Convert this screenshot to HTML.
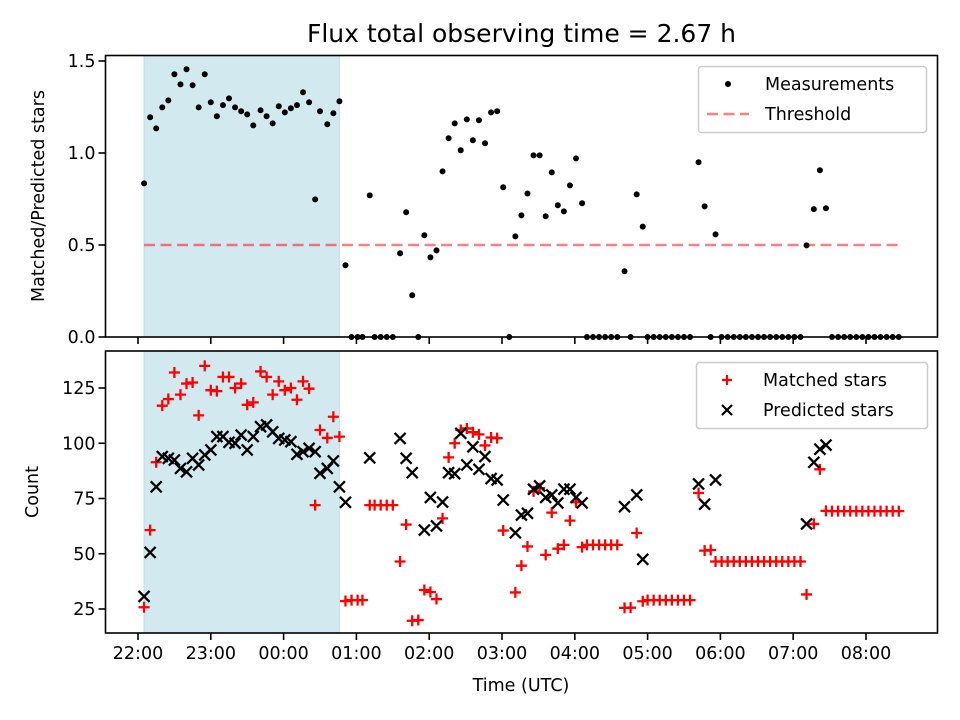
<!DOCTYPE html>
<html><head><meta charset="utf-8"><style>
body{margin:0;background:#fff}
svg{font-family:"DejaVu Sans","Liberation Sans",sans-serif;display:block}
</style></head><body>
<svg id="chart" width="960" height="720" xmlns="http://www.w3.org/2000/svg"></svg>
<script>
const minutes=[5,10,15,20,25,30,35,40,45,50,55,60,65,70,75,80,85,90,95,101,106,111,116,121,126,131,136,141,146,150,156,161,166,171,176,181,185,191,195,200,205,210,216,221,226,231,236,241,246,251,256,261,266,271,276,281,286,291,296,301,306,311,316,321,326,331,336,341,346,351,356,361,366,370,375,380,385,390,395,401,406,411,416,420,425,430,435,440,445,450,455,462,467,472,476,481,486,491,496,501,506,511,516,521,526,531,536,541,546,551,557,562,567,572,577,582,587,592,597,602,607,612,617,622,627];
const ratio=[.835,1.194,1.134,1.248,1.286,1.428,1.373,1.455,1.368,1.248,1.428,1.276,1.2,1.26,1.297,1.248,1.227,1.21,1.15,1.232,1.2,1.161,1.254,1.221,1.243,1.26,1.33,1.276,.748,1.227,1.156,1.216,1.281,.39,0,0,0,.77,0,0,0,0,.455,.678,.227,0,.553,.433,.471,.9,1.08,1.161,1.015,1.183,1.069,1.178,1.053,1.221,1.227,.814,0,.547,.661,.78,.987,.987,.656,.895,.716,.683,.824,.971,.727,0,0,0,0,0,0,.357,0,.775,.6,0,0,0,0,0,0,0,0,.95,.71,0,.558,0,0,0,0,0,0,0,0,0,0,0,0,0,0,.498,.695,.906,.7,0,0,0,0,0,0,0,0,0,0,0,0];
const matched=[25.8,60.7,91.4,117,120,132,122,127,127.5,112.6,135,124,123.6,130,130,125,127,117.4,118.5,132.5,130,122,128,124,125,119.7,128,124.7,72,106,102.4,112,103,28.6,29,29,29,72,72,72,72,72,46.5,63.2,19.7,20,33.6,32.7,29.5,66,93.6,100,106,106.7,105,104,99,102.6,102.3,60.5,null,32.5,44.6,53.3,78.2,79.7,49.5,68.6,52.3,54,65,73.3,53,54,54,54,54,54,54,25.5,25.6,59.4,28.5,29,29,29,29,29,29,29,29,77.5,51.4,51.7,46.5,46.5,46.5,46.5,46.5,46.5,46.5,46.5,46.5,46.5,46.5,46.5,46.5,46.5,46.5,31.6,63.5,88.2,69.4,69.3,69.3,69.3,69.3,69.3,69.3,69.3,69.3,69.3,69.3,69.3,69.3];
const predicted=[30.7,50.6,80.3,94,93.2,92.4,88.6,87.1,93.2,90.2,94.7,97,103,103,100.4,100,103.7,97,103,107.5,108.3,105.2,102.2,101.5,100.7,95,96.2,97.7,96.2,86.4,88.6,92,80.3,73.3,null,null,null,93.4,null,null,null,null,102.2,93.2,86.7,null,60.7,75.5,62.6,73.4,86.7,86.2,104.5,90.2,98.4,88.2,94,84,83.4,74.3,null,59.5,67.5,68.3,79.2,80.7,75.5,76.6,73,79.2,79.2,75.5,73,null,null,null,null,null,null,71.3,null,76.6,47.5,null,null,null,null,null,null,null,null,81.6,72.4,null,83.4,null,null,null,null,null,null,null,null,null,null,null,null,null,null,63.5,91.4,97.3,99.2,null,null,null,null,null,null,null,null,null,null,null,null];
const xTickMinutes=[0,60,120,180,240,300,360,420,480,540,600];
const xTickLabels=["22:00","23:00","00:00","01:00","02:00","03:00","04:00","05:00","06:00","07:00","08:00"];
const topTicks=[0,0.5,1.0,1.5];
const topTickLabels=["0.0","0.5","1.0","1.5"];
const botTicks=[25,50,75,100,125];
const threshold=0.5;
const shadeStart=5, shadeEnd=166;

const NS="http://www.w3.org/2000/svg";
const svg=document.getElementById('chart');
function el(tag,attrs,parent,text){const e=document.createElementNS(NS,tag);for(const k in attrs)e.setAttribute(k,attrs[k]);if(text!==undefined)e.textContent=text;(parent||svg).appendChild(e);return e;}
const FS=17.5;
const L=105.5,R=937.5,T1=55.5,B1=337,T2=351,B2=633;
const X=m=>138+m*72.8/60;
const Y1=v=>337-v*184;
const Y2=v=>609-(v-25)*2.21;

[[T1,B1],[T2,B2]].forEach(([t,b],i)=>{
  const r=el('rect',{x:X(shadeStart),y:t,width:X(shadeEnd)-X(shadeStart),height:b-t,fill:'rgb(211,233,240)',stroke:'rgb(190,222,232)','stroke-width':1});
  
  
});

const th=el('line',{x1:X(minutes[0]),x2:X(minutes[minutes.length-1]),y1:Y1(threshold),y2:Y1(threshold),stroke:'#ff0000','stroke-opacity':0.5,'stroke-width':2.6,'stroke-dasharray':'11,5.5'});



minutes.forEach((m,i)=>{
  const c=el('circle',{cx:X(m),cy:Y1(ratio[i]),r:3,fill:'#000'});
  
  
});
minutes.forEach((m,i)=>{
  if(matched[i]==null)return;
  const x=X(m),y=Y2(matched[i]),s=5.5;
  const p=el('path',{d:`M${x-s},${y}H${x+s}M${x},${y-s}V${y+s}`,stroke:'#ff0000','stroke-width':2.3,fill:'none'});
  
  
});
minutes.forEach((m,i)=>{
  if(predicted[i]==null)return;
  const x=X(m),y=Y2(predicted[i]),s=5.5;
  const p=el('path',{d:`M${x-s},${y-s}L${x+s},${y+s}M${x-s},${y+s}L${x+s},${y-s}`,stroke:'#000','stroke-width':2.3,fill:'none'});
  
  
});

[[T1,B1],[T2,B2]].forEach(([t,b],i)=>{
  const f=el('rect',{x:L,y:t,width:R-L,height:b-t,fill:'none',stroke:'#000','stroke-width':1.6});
  
  
});
xTickMinutes.forEach((m,i)=>{
  const x=X(m);
  el('line',{x1:x,x2:x,y1:B1,y2:B1+7,stroke:'#000','stroke-width':1.6});
  el('line',{x1:x,x2:x,y1:B2,y2:B2+7,stroke:'#000','stroke-width':1.6});
  const t=el('text',{x:x,y:B2+26,'font-size':FS,'text-anchor':'middle'},null,xTickLabels[i]);
  
  
});
topTicks.forEach((v,i)=>{
  const y=Y1(v);
  el('line',{x1:L-7,x2:L,y1:y,y2:y,stroke:'#000','stroke-width':1.6});
  const t=el('text',{x:L-10,y:y+6,'font-size':FS,'text-anchor':'end'},null,topTickLabels[i]);
  
  
});
botTicks.forEach(v=>{
  const y=Y2(v);
  el('line',{x1:L-7,x2:L,y1:y,y2:y,stroke:'#000','stroke-width':1.6});
  const t=el('text',{x:L-10,y:y+6,'font-size':FS,'text-anchor':'end'},null,String(v));
  
  
});

let e;
e=el('text',{x:521.5,y:42,'font-size':25,'text-anchor':'middle'},null,'Flux total observing time = 2.67 h');


e=el('text',{x:0,y:0,'font-size':FS,'text-anchor':'middle',transform:'translate(44,196) rotate(-90)'},null,'Matched/Predicted stars');


e=el('text',{x:0,y:0,'font-size':FS,'text-anchor':'middle',transform:'translate(38,492) rotate(-90)'},null,'Count');


e=el('text',{x:521,y:691,'font-size':FS,'text-anchor':'middle'},null,'Time (UTC)');



e=el('rect',{x:698.5,y:66.5,width:228,height:66,rx:3,fill:'#fff','fill-opacity':0.8,stroke:'#ccc','stroke-width':1.5});


el('circle',{cx:728,cy:84,r:3,fill:'#000'});
e=el('text',{x:765,y:90,'font-size':FS},null,'Measurements');


el('line',{x1:707,x2:749,y1:114,y2:114,stroke:'#ff0000','stroke-opacity':0.5,'stroke-width':2.6,'stroke-dasharray':'11,5.5'});
e=el('text',{x:765,y:120,'font-size':FS},null,'Threshold');



e=el('rect',{x:696.5,y:362.5,width:231,height:66,rx:3,fill:'#fff','fill-opacity':0.8,stroke:'#ccc','stroke-width':1.5});


el('path',{d:'M722,380H732M727,375V385',stroke:'#ff0000','stroke-width':2.2});
e=el('text',{x:763,y:386,'font-size':FS},null,'Matched stars');


el('path',{d:'M722,405L732,415M722,415L732,405',stroke:'#000','stroke-width':2.2});
e=el('text',{x:763,y:416,'font-size':FS},null,'Predicted stars');


</script>
</body></html>
